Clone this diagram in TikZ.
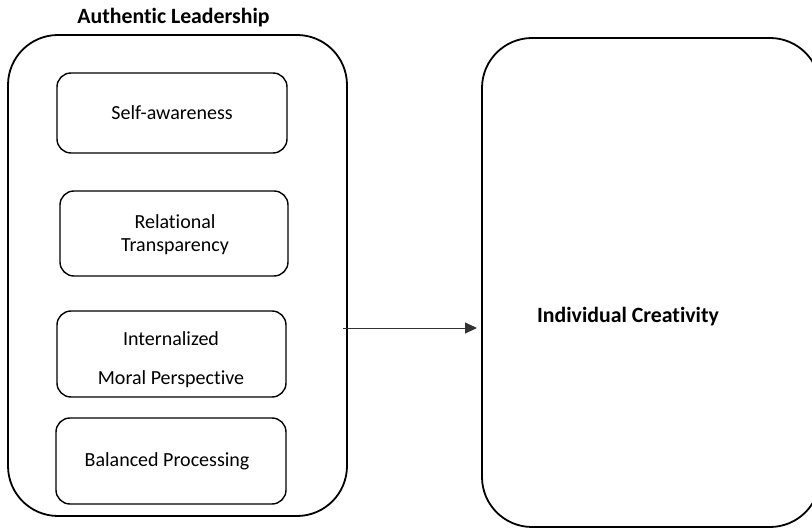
\documentclass[tikz,border=0pt]{standalone}
\usepackage{fontspec}
\setmainfont{Carlito}[Ligatures=NoCommon]
\usetikzlibrary{arrows.meta}
\begin{document}
\begin{tikzpicture}[x=1pt,y=-1pt,
  outerbox/.style={draw,line width=1.8pt,rounded corners=50pt},
  innerbox/.style={draw,line width=1.4pt,rounded corners=14pt},
  lbl/.style={font=\fontsize{20}{24}\selectfont,align=center,inner sep=0pt},
  ttl/.style={font=\bfseries\fontsize{21.8}{26}\selectfont,inner sep=0pt}]
\useasboundingbox (0,0) rectangle (812,529);
\begin{scope}
\clip (0,0) rectangle (812,529);
\draw[outerbox] (8,35) rectangle (347,516);
\coordinate (AL) at (177.5,275.5);
\draw[outerbox] (482,38) rectangle (820,527);
\coordinate (IC) at (651,282);
\end{scope}
\node[ttl] (altitle) at (173.5,18) {Authentic Leadership};
\node[innerbox,minimum width=230pt,minimum height=80pt] (sa) at (172,113) {};
\node[lbl] at (sa) {Self-awareness};
\node[innerbox,minimum width=228pt,minimum height=85pt] (rt) at (174,233.5) {};
\node[lbl] at (175,222) {Relational};
\node[lbl] at (175,247) {Transparency};
\node[innerbox,minimum width=229pt,minimum height=86pt] (im) at (171.5,354) {};
\node[lbl] at (171,339) {Internalized};
\node[lbl] at (171,379) {Moral Perspective};
\node[innerbox,minimum width=230pt,minimum height=86pt] (bp) at (171,461) {};
\node[lbl] at (167,461) {Balanced Processing};
\node[ttl] (ictext) at (628,317) {Individual Creativity};
\coordinate (aStart) at (343,328);
\coordinate (aEnd) at (477,328);
\draw[line width=0.9pt,draw=black!80,-{Triangle[length=12pt,width=11pt]}] (aStart) -- (aEnd);
\end{tikzpicture}
\end{document}
